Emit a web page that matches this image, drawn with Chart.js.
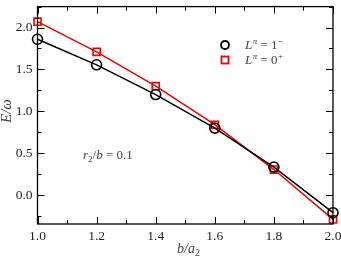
<!DOCTYPE html>
<html>
<head>
    <title>E/omega vs b/a2</title>
    <script src="https://cdn.jsdelivr.net/npm/chart.js"></script>
    <style>
        body { margin: 0; background: #fff; }
        #wrap { width: 341px; height: 257px; position: relative; }
    </style>
</head>
<body>
    <div id="wrap"><canvas id="chart"></canvas></div>
    <script>
        // data
        const ratios = [1.0, 1.2, 1.4, 1.6, 1.8, 2.0];
        const energyOneMinus = [1.86, 1.555, 1.20, 0.80, 0.335, -0.21];
        const energyZeroPlus = [2.07, 1.71, 1.30, 0.84, 0.305, -0.29];
        const xTicks = [1.0, 1.2, 1.4, 1.6, 1.8, 2.0];
        const yTicks = [0.0, 0.5, 1.0, 1.5, 2.0];

        const serif = '"Liberation Serif", "DejaVu Serif", serif';

        const points = (ys) => ratios.map((x, i) => ({ x: x, y: ys[i] }));

        // frame, inner ticks, legend and text labels
        const decor = {
            id: 'decor',
            afterDraw(chart) {
                const ctx = chart.ctx;
                const a = chart.chartArea;
                const xs = chart.scales.x, ys = chart.scales.y;
                ctx.save();
                ctx.strokeStyle = '#000';
                ctx.lineWidth = 1.3;
                ctx.strokeRect(a.left, a.top, a.right - a.left, a.bottom - a.top);

                ctx.lineWidth = 1;
                ctx.beginPath();
                for (let v = 1.0; v <= 2.0001; v += 0.1) {
                    const px = Math.round(xs.getPixelForValue(v)) + 0.5;
                    const major = Math.abs(v * 5 - Math.round(v * 5)) < 1e-6;
                    const len = major ? 7 : 4;
                    ctx.moveTo(px, a.bottom); ctx.lineTo(px, a.bottom - len);
                    ctx.moveTo(px, a.top); ctx.lineTo(px, a.top + len);
                }
                for (let v = -0.25; v <= 2.25; v += 0.25) {
                    const py = Math.round(ys.getPixelForValue(v)) + 0.5;
                    const major = Math.abs(v * 2 - Math.round(v * 2)) < 1e-6;
                    const len = major ? 7 : 4;
                    ctx.moveTo(a.left, py); ctx.lineTo(a.left + len, py);
                    ctx.moveTo(a.right, py); ctx.lineTo(a.right - len, py);
                }
                ctx.stroke();

                // legend
                ctx.lineWidth = 1.8;
                ctx.strokeStyle = '#000';
                ctx.beginPath();
                ctx.arc(225, 45, 4, 0, Math.PI * 2);
                ctx.stroke();
                ctx.strokeStyle = '#e00';
                ctx.strokeRect(221.5, 56.5, 7, 7);

                ctx.fillStyle = '#444';
                ctx.textBaseline = 'alphabetic';
                const legendLine = (x, y, val, sign) => {
                    ctx.textAlign = 'left';
                    ctx.font = 'italic 13px ' + serif;
                    ctx.fillText('L', x, y);
                    let w = ctx.measureText('L').width;
                    ctx.font = 'italic 9px ' + serif;
                    ctx.fillText('\u03c0', x + w + 0.5, y - 5);
                    ctx.font = '13px ' + serif;
                    ctx.fillText(' = ' + val, x + w + 5, y);
                    const w2 = ctx.measureText(' = ' + val).width;
                    ctx.font = '9px ' + serif;
                    ctx.fillText(sign, x + w + 5 + w2 + 0.5, y - 5);
                };
                legendLine(245, 49, '1', '\u2212');
                legendLine(245, 64, '0', '+');

                // r2/b annotation
                ctx.font = 'italic 13px ' + serif;
                let x = 83, y = 159;
                ctx.fillText('r', x, y); x += ctx.measureText('r').width;
                ctx.font = '9px ' + serif;
                ctx.fillText('2', x, y + 3); x += ctx.measureText('2').width;
                ctx.font = '13px ' + serif;
                ctx.fillText('/', x, y); x += ctx.measureText('/').width;
                ctx.font = 'italic 13px ' + serif;
                ctx.fillText('b', x, y); x += ctx.measureText('b').width;
                ctx.font = '13px ' + serif;
                ctx.fillText(' = 0.1', x, y);

                // x title
                ctx.font = 'italic 14px ' + serif;
                x = 177; y = 253;
                ctx.fillText('b/a', x, y); x += ctx.measureText('b/a').width;
                ctx.font = '10px ' + serif;
                ctx.fillText('2', x, y + 3);

                // y title
                ctx.translate(11, 111);
                ctx.rotate(-Math.PI / 2);
                ctx.textAlign = 'center';
                ctx.font = 'italic 15px ' + serif;
                ctx.fillText('E/\u03c9', 0, 0);
                ctx.restore();
            }
        };

        new Chart(document.getElementById('chart'), {
            type: 'line',
            data: {
                datasets: [
                    {
                        label: 'L=1-',
                        data: points(energyOneMinus),
                        borderColor: '#000',
                        borderWidth: 1.5,
                        pointStyle: 'circle',
                        pointRadius: 5,
                        pointBorderWidth: 1.6,
                        pointBackgroundColor: 'rgba(0,0,0,0)',
                        pointBorderColor: '#000',
                        tension: 0
                    },
                    {
                        label: 'L=0+',
                        data: points(energyZeroPlus),
                        borderColor: '#e00',
                        borderWidth: 1.5,
                        pointStyle: 'rect',
                        pointRadius: 5,
                        pointBorderWidth: 1.6,
                        pointBackgroundColor: 'rgba(0,0,0,0)',
                        pointBorderColor: '#e00',
                        tension: 0
                    }
                ]
            },
            options: {
                responsive: true,
                maintainAspectRatio: false,
                animation: false,
                clip: false,
                layout: { padding: { top: 1, right: 8, left: 0, bottom: 0 } },
                plugins: { legend: { display: false }, tooltip: { enabled: false } },
                scales: {
                    x: {
                        type: 'linear',
                        min: 1.0,
                        max: 2.0,
                        afterBuildTicks: (s) => { s.ticks = xTicks.map(v => ({ value: v })); },
                        afterFit: (s) => { s.height = 33; s.paddingLeft = 0; s.paddingRight = 0; },
                        grid: { display: false, drawTicks: false },
                        border: { display: false },
                        ticks: {
                            color: '#222',
                            padding: 4,
                            font: { family: serif, size: 13.5 },
                            callback: (v) => v.toFixed(1)
                        }
                    },
                    y: {
                        min: -0.345,
                        max: 2.25,
                        afterBuildTicks: (s) => { s.ticks = yTicks.map(v => ({ value: v })); },
                        afterFit: (s) => { s.width = 37.5; s.paddingTop = 0; s.paddingBottom = 0; },
                        grid: { display: false, drawTicks: false },
                        border: { display: false },
                        ticks: {
                            color: '#222',
                            padding: 5,
                            font: { family: serif, size: 13.5 },
                            callback: (v) => v.toFixed(1)
                        }
                    }
                }
            },
            plugins: [decor]
        });
    </script>
</body>
</html>
